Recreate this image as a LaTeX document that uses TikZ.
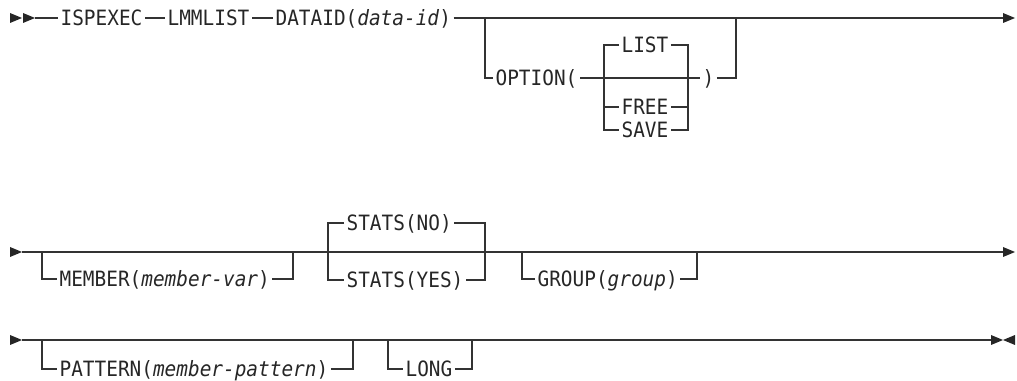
\documentclass[tikz,border=0pt]{standalone}
\usepackage{fontspec}
\setmonofont[FakeStretch=0.92]{DejaVu Sans Mono}
\usetikzlibrary{positioning,calc}
\tikzset{
  kw/.style      = {anchor=west, inner xsep=1.5pt, inner ysep=0pt, outer sep=0pt,
                    text height=11pt, text depth=2.2pt, text=black!85,
                    font=\ttfamily\fontsize{12}{13}\selectfont},
  rail/.style    = {draw=black!80, line width=0.85pt},
  tipfill/.style = {fill=black!85}
}
% filled triangle tips, pointing right / left, tip at the given point
\newcommand\rtip[1]{\fill[tipfill] (#1) -- ++(-12,5) -- ++(0,-10) -- cycle;}
\newcommand\ltip[1]{\fill[tipfill] (#1) -- ++(12,5) -- ++(0,-10) -- cycle;}

\begin{document}
\begin{tikzpicture}[x=0.02cm, y=-0.02cm]
  \useasboundingbox (0,0) rectangle (1017,381);

  % Row 1: ISPEXEC LMMLIST DATAID [OPTION(...)]
  \coordinate (r1s) at (35,18);
  \coordinate (r1e) at (1004,18);
  \node[kw] (ispexec) at (58,18)  {ISPEXEC};
  \node[kw] (lmmlist) at (165,18) {LMMLIST};
  \node[kw] (dataid)  at (273,18) {DATAID(\textit{data-id})};
  \node[kw] (option)  at (493,78) {OPTION(};
  \node[kw] (list)    at (619,45) {LIST};
  \node[kw] (free)    at (619,107) {FREE};
  \node[kw] (save)    at (619,130) {SAVE};
  \node[kw] (rparen)  at (700,78) {)};
  \coordinate (optS) at (485,18);
  \coordinate (optE) at (736,18);
  \coordinate (grpL) at (604,78);
  \coordinate (grpR) at (688,78);

  \rtip{22,18}
  \rtip{35,18}
  \draw[rail] (r1s) -- (ispexec.west);
  \draw[rail] (ispexec.east) -- (lmmlist.west);
  \draw[rail] (lmmlist.east) -- (dataid.west);
  \draw[rail] (dataid.east) -- (r1e);
  \rtip{1015,18}

  \draw[rail] (optS) |- (option.west);
  \draw[rail] (option.east) -- (rparen.west);
  \draw[rail] (rparen.east) -| (optE);
  \draw[rail] (list.west) -| (grpL) |- (save.west);
  \draw[rail] (free.west -| grpL) -- (free.west);
  \draw[rail] (list.east) -| (grpR) |- (save.east);
  \draw[rail] (free.east) -- (free.east -| grpR);

  % Row 2: [MEMBER] STATS(NO|YES) [GROUP]
  \coordinate (r2s) at (22,252);
  \coordinate (r2e) at (1004,252);
  \node[kw] (member)   at (57,279)  {MEMBER(\textit{member-var})};
  \node[kw] (statsno)  at (344,223) {STATS(NO)};
  \node[kw] (statsyes) at (344,280) {STATS(YES)};
  \node[kw] (group)    at (535,279) {GROUP(\textit{group})};
  \coordinate (memL) at (42,252);
  \coordinate (memR) at (293,252);
  \coordinate (staL) at (328,252);
  \coordinate (staR) at (485,252);
  \coordinate (grpbL) at (522,252);
  \coordinate (grpbR) at (697,252);

  \rtip{22,252}
  \draw[rail] (r2s) -- (r2e);
  \rtip{1015,252}
  \draw[rail] (memL) |- (member.west);
  \draw[rail] (member.east) -| (memR);
  \draw[rail] (statsno.west) -| (staL) |- (statsyes.west);
  \draw[rail] (statsno.east) -| (staR) |- (statsyes.east);
  \draw[rail] (grpbL) |- (group.west);
  \draw[rail] (group.east) -| (grpbR);

  % Row 3: [PATTERN] [LONG]
  \coordinate (r3s) at (22,340);
  \coordinate (r3e) at (993,340);
  \node[kw] (pattern) at (57,369)  {PATTERN(\textit{member-pattern})};
  \node[kw] (long)    at (403,369) {LONG};
  \coordinate (patL) at (42,340);
  \coordinate (patR) at (353,340);
  \coordinate (lngL) at (388,340);
  \coordinate (lngR) at (472,340);

  \rtip{22,340}
  \draw[rail] (r3s) -- (r3e);
  \rtip{1003,340}
  \ltip{1003,340}
  \draw[rail] (patL) |- (pattern.west);
  \draw[rail] (pattern.east) -| (patR);
  \draw[rail] (lngL) |- (long.west);
  \draw[rail] (long.east) -| (lngR);
\end{tikzpicture}
\end{document}
